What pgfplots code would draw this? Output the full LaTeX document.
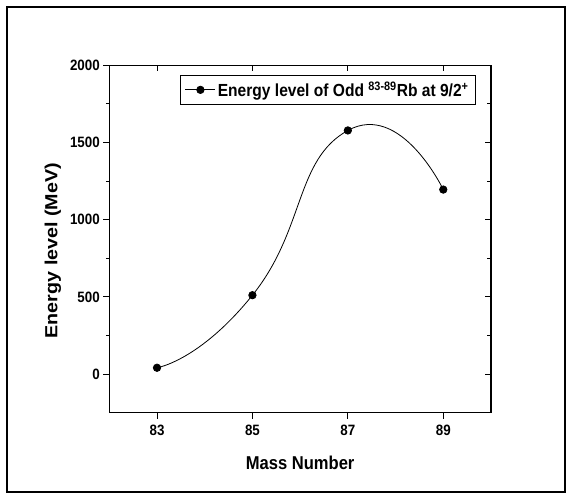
\documentclass[border=0pt]{standalone}
\usepackage{fontspec}
\setmainfont{Liberation Sans}[FakeStretch=0.89]
\newfontfamily\plainfont{Liberation Sans}
\usepackage{pgfplots}
\pgfplotsset{compat=1.18}
\begin{document}
\begin{tikzpicture}[x=1pt,y=1pt]
\useasboundingbox (0,0) rectangle (566,494);
\draw[line width=2pt] (7.3,1.5) rectangle (564.5,486.7);
\pgfplotsset{
  common/.style={
    at={(109.3pt,81.3pt)}, anchor=south west,
    scale only axis, width=381.7pt, height=347.4pt,
    xmin=82, xmax=90, ymin=-250, ymax=2000,
    xtick={83,85,87,89}, ytick={0,500,1000,1500,2000},
    minor y tick num=1,
    axis line style={line width=1.1pt},
    major tick style={line width=1pt, black},
    minor tick style={line width=1pt, black},
    major tick length=6pt, minor tick length=3.5pt,
  }
}
\begin{axis}[common, tick pos=right, tick align=inside, xticklabels={}, yticklabels={}]
\end{axis}
\begin{axis}[common, tick pos=left, tick align=outside,
  xticklabels={83,85,87,89},
  yticklabels={0,500,1000,1500,2000},
  tick label style={font=\bfseries\fontsize{15}{15}\selectfont},
  xticklabel style={yshift=-3pt},
  xlabel={Mass Number},
  ylabel={\scalebox{1}[0.89]{Energy level (MeV)}},
  xlabel style={font=\bfseries\fontsize{18.6}{20}\selectfont, at={(axis description cs:0.5,-0.1628)}, anchor=base},
  ylabel style={font=\plainfont\bfseries\fontsize{19.7}{22}\selectfont, at={(axis description cs:-0.1475,0.4665)}, anchor=center},
  legend style={at={(0.9607,0.9712)}, anchor=north east, draw=black, line width=0.8pt,
    font=\bfseries\fontsize{17.5}{20}\selectfont, inner xsep=5pt, inner ysep=4pt},
  legend image code/.code={\draw[mark repeat=2,mark phase=2,#1] plot coordinates {(0pt,0pt) (15pt,0pt) (30pt,0pt)};},
]
\addplot[black, line width=0.8pt, smooth, tension=1, mark=*, mark size=3.7pt, mark options={fill=black}]
  coordinates {(83,41) (85,511) (87,1578) (89,1195)};
\addlegendentry{Energy level of Odd \textsuperscript{83-89}Rb at 9/2\textsuperscript{+}}
\end{axis}
\end{tikzpicture}
\end{document}
